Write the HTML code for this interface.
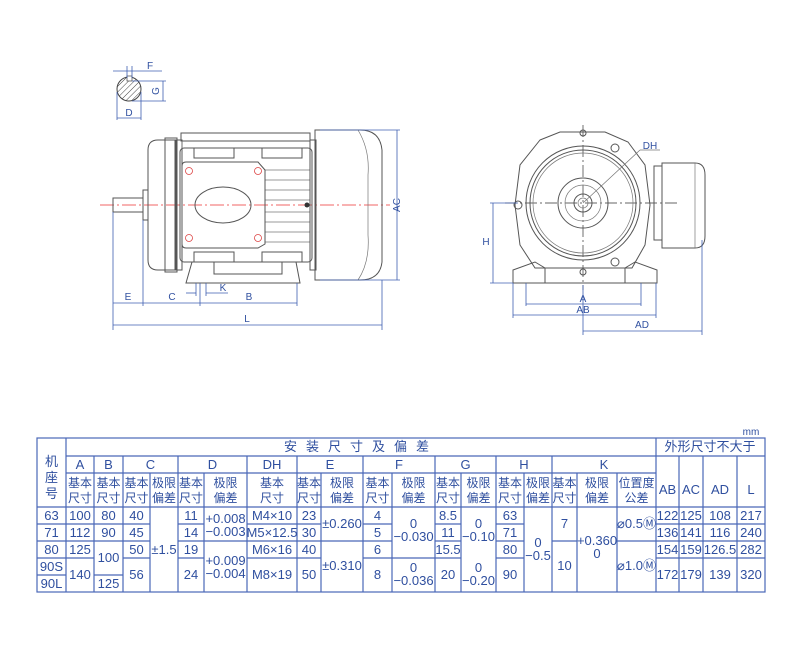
<!DOCTYPE html>
<html><head><meta charset="utf-8"><style>
html,body{margin:0;padding:0;background:#fff}
svg{display:block}
.t{font-family:"Liberation Sans","Noto Sans CJK SC",sans-serif;font-size:13px;fill:#2f4f9f;text-anchor:middle}
.d{font-family:"Liberation Sans",sans-serif;font-size:10px;fill:#3050a0;text-anchor:middle}
.g{stroke:#555;stroke-width:1;fill:none}
.g2{stroke:#777;stroke-width:0.7;fill:none}
.b{stroke:#3f5fb0;stroke-width:0.8;fill:none}
.r{stroke:#e33;stroke-width:0.8;stroke-dasharray:14 3 2 3;fill:none}
.k{stroke:#333;stroke-width:0.7;stroke-dasharray:12 3 2 3;fill:none}
.tl{stroke:#4a68b8;stroke-width:1.2;fill:none}
</style></head><body>
<svg width="806" height="656" viewBox="0 0 806 656" xmlns="http://www.w3.org/2000/svg">
<defs>
<pattern id="h" width="4" height="4" patternUnits="userSpaceOnUse" patternTransform="rotate(45)"><line x1="0" y1="0" x2="0" y2="4" stroke="#444" stroke-width="1"/></pattern>
</defs>
<circle cx="129" cy="89" r="12" fill="url(#h)" stroke="#444"/>
<rect x="127" y="76" width="5" height="5" fill="#fff" stroke="#444" stroke-width="0.7"/>
<line class="b" x1="113" y1="71" x2="162" y2="71"/><line class="b" x1="127" y1="66" x2="127" y2="78"/><line class="b" x1="132" y1="66" x2="132" y2="78"/>
<text class="d" x="150" y="69">F</text>
<line class="b" x1="132" y1="81" x2="166" y2="81"/><line class="b" x1="132" y1="101" x2="166" y2="101"/><line class="b" x1="163" y1="81" x2="163" y2="101"/>
<text class="d" x="156" y="94" transform="rotate(-90 156 91)">G</text>
<line class="b" x1="117" y1="92" x2="117" y2="120"/><line class="b" x1="141" y1="92" x2="141" y2="120"/><line class="b" x1="117" y1="118" x2="141" y2="118"/>
<text class="d" x="129" y="116">D</text>
<line class="r" x1="100" y1="205" x2="390" y2="205"/>
<rect class="g" x="113" y="198" width="30" height="14"/>
<rect class="g" x="143" y="190" width="5" height="30"/>
<path class="g" d="M148 150 Q148 140 158 140 L175 140 L175 270 L158 270 Q148 270 148 260 Z"/>
<rect class="g" x="165" y="138" width="12" height="134"/>
<rect class="g" x="176" y="140" width="6" height="130"/>
<rect class="g" x="181" y="133" width="129" height="8"/>
<rect class="g" x="180" y="148" width="132" height="114" rx="4"/>
<line class="g2" x1="182" y1="141" x2="182" y2="148"/><line class="g2" x1="310" y1="141" x2="310" y2="148"/>
<rect class="g" x="194" y="148" width="40" height="10"/><rect class="g" x="262" y="148" width="40" height="10"/>
<rect class="g" x="194" y="252" width="40" height="10"/><rect class="g" x="262" y="252" width="40" height="10"/>
<g class="g2"><line x1="265" y1="170" x2="310" y2="170"/><line x1="265" y1="180" x2="310" y2="180"/><line x1="265" y1="190" x2="310" y2="190"/><line x1="265" y1="200" x2="310" y2="200"/><line x1="265" y1="212" x2="310" y2="212"/><line x1="265" y1="222" x2="310" y2="222"/><line x1="265" y1="232" x2="310" y2="232"/><line x1="265" y1="242" x2="310" y2="242"/></g>
<path class="g" d="M182 166 Q182 162 186 162 L258 162 L265 170 L265 244 L258 248 L186 248 Q182 248 182 244 Z"/>
<ellipse class="g" cx="223" cy="205" rx="28" ry="18"/>
<g stroke="#d44" stroke-width="0.8" fill="none"><circle cx="189" cy="171" r="3.5"/><circle cx="258" cy="171" r="3.5"/><circle cx="189" cy="238" r="3.5"/><circle cx="258" cy="238" r="3.5"/></g>
<circle cx="307" cy="205" r="2.5" fill="#333"/>
<path class="g" d="M192 262 L186 283 L300 283 L296 262"/>
<rect class="g" x="214" y="262" width="68" height="12"/>
<path class="g" d="M315 130 L360 130 Q380 130 382 150 L382 262 Q380 280 360 280 L315 280 Z"/>
<path class="g2" d="M358 130 Q370 150 368 175 L368 235 Q370 262 358 280"/>
<rect class="g" x="310" y="140" width="6" height="130"/>
<line class="b" x1="320" y1="130" x2="400" y2="130"/><line class="b" x1="320" y1="280" x2="400" y2="280"/>
<line class="b" x1="397" y1="130" x2="397" y2="280"/>
<text class="d" x="397" y="208" transform="rotate(-90 397 205)">AC</text>
<line class="b" x1="113" y1="212" x2="113" y2="330"/><line class="b" x1="143" y1="220" x2="143" y2="306"/>
<line class="b" x1="200" y1="283" x2="200" y2="306"/><line class="b" x1="297" y1="283" x2="297" y2="306"/><line class="b" x1="382" y1="280" x2="382" y2="330"/>
<line class="b" x1="196" y1="283" x2="196" y2="296"/><line class="b" x1="206" y1="283" x2="206" y2="296"/>
<line class="b" x1="186" y1="293" x2="196" y2="293"/><line class="b" x1="206" y1="293" x2="228" y2="293"/>
<text class="d" x="223" y="291">K</text>
<line class="b" x1="113" y1="303" x2="297" y2="303"/>
<text class="d" x="128" y="300">E</text><text class="d" x="172" y="300">C</text><text class="d" x="249" y="300">B</text>
<line class="b" x1="113" y1="325" x2="382" y2="325"/><text class="d" x="247" y="322">L</text>
<line class="k" x1="505" y1="203" x2="680" y2="203"/><line class="k" x1="583" y1="125" x2="583" y2="290"/>
<path class="g" d="M540 140 L560 132 L605 132 L628 142 L645 165 L650 205 L645 245 L632 268 L535 268 L520 245 L515 205 L520 165 Z"/>
<circle class="g" cx="583" cy="203" r="57"/><circle class="g" cx="583" cy="203" r="53"/><circle class="g2" cx="583" cy="203" r="50"/>
<circle class="g" cx="583" cy="203" r="25"/><circle class="g2" cx="583" cy="203" r="18"/><circle class="g" cx="583" cy="203" r="9"/><circle class="g2" cx="583" cy="203" r="5"/>
<line class="g2" x1="583" y1="203" x2="640" y2="150"/><line class="g2" x1="640" y1="150" x2="660" y2="150"/>
<text class="d" x="650" y="149">DH</text>
<circle class="g" cx="518" cy="205" r="4"/><circle class="g" cx="615" cy="148" r="4"/><circle class="g" cx="615" cy="262" r="4"/><circle class="g" cx="583" cy="133" r="3"/><circle class="g" cx="583" cy="272" r="3"/>
<rect class="g" x="654" y="166" width="8" height="74"/>
<path class="g" d="M662 163 L695 163 Q705 163 705 175 L705 236 Q705 248 695 248 L662 248 Z"/>
<line class="g2" x1="695" y1="163" x2="695" y2="248"/>
<path class="g" d="M513 283 L513 270 L535 262 L545 268 L545 283 Z"/><path class="g" d="M657 283 L657 270 L635 262 L625 268 L625 283 Z"/>
<line class="g" x1="513" y1="283" x2="657" y2="283"/>
<line class="b" x1="493" y1="203" x2="493" y2="283"/><line class="b" x1="490" y1="203" x2="518" y2="203"/><line class="b" x1="490" y1="283" x2="513" y2="283"/>
<text class="d" x="486" y="245">H</text>
<line class="b" x1="526" y1="283" x2="526" y2="306"/><line class="b" x1="641" y1="283" x2="641" y2="306"/><line class="b" x1="526" y1="304" x2="641" y2="304"/>
<text class="d" x="583" y="302">A</text>
<line class="b" x1="513" y1="283" x2="513" y2="318"/><line class="b" x1="656" y1="283" x2="656" y2="318"/><line class="b" x1="513" y1="315" x2="656" y2="315"/>
<text class="d" x="583" y="313">AB</text>
<line class="b" x1="583" y1="285" x2="583" y2="335"/><line class="b" x1="702" y1="240" x2="702" y2="335"/><line class="b" x1="583" y1="331" x2="702" y2="331"/>
<text class="d" x="642" y="328">AD</text>
<text class="d" x="751" y="435" style="font-size:10px">mm</text>
<g class="tl">
<rect x="37" y="438" width="728" height="154"/>
<line x1="66" y1="438" x2="66" y2="592"/><line x1="656" y1="438" x2="656" y2="592"/>
<line x1="66" y1="456" x2="765" y2="456"/><line x1="66" y1="473" x2="656" y2="473"/><line x1="37" y1="507" x2="765" y2="507"/>
<line x1="94" y1="456" x2="94" y2="592"/><line x1="123" y1="456" x2="123" y2="592"/><line x1="150" y1="473" x2="150" y2="592"/><line x1="178" y1="456" x2="178" y2="592"/><line x1="204" y1="473" x2="204" y2="592"/><line x1="247" y1="456" x2="247" y2="592"/><line x1="297" y1="456" x2="297" y2="592"/><line x1="321" y1="473" x2="321" y2="592"/><line x1="363" y1="456" x2="363" y2="592"/><line x1="392" y1="473" x2="392" y2="592"/><line x1="435" y1="456" x2="435" y2="592"/><line x1="461" y1="473" x2="461" y2="592"/><line x1="496" y1="456" x2="496" y2="592"/><line x1="524" y1="473" x2="524" y2="592"/><line x1="552" y1="456" x2="552" y2="592"/><line x1="577" y1="473" x2="577" y2="592"/><line x1="617" y1="473" x2="617" y2="592"/><line x1="679" y1="456" x2="679" y2="592"/><line x1="703" y1="456" x2="703" y2="592"/><line x1="737" y1="456" x2="737" y2="592"/>
<path d="M37 524H150M178 524H204M247 524H321M363 524H392M435 524H461M496 524H524M656 524H765"/>
<path d="M37 541H150M178 541H392M435 541H461M496 541H524M552 541H577M617 541H765"/>
<path d="M37 558H94M123 558H150M178 558H204M247 558H321M363 558H461M496 558H524M656 558H765"/>
<path d="M37 575H66M94 575H123"/>
</g>
<g class="t">
<text x="51.5" y="466">机</text><text x="51.5" y="482">座</text><text x="51.5" y="498">号</text>
<text x="361" y="451" style="letter-spacing:9px">安装尺寸及偏差</text>
<text x="710" y="451">外形尺寸不大于</text>
<text x="80" y="469">A</text><text x="108.5" y="469">B</text><text x="150.5" y="469">C</text><text x="212.5" y="469">D</text><text x="272" y="469">DH</text><text x="330" y="469">E</text><text x="399" y="469">F</text><text x="465.5" y="469">G</text><text x="524" y="469">H</text><text x="604" y="469">K</text>
<text x="667.5" y="494">AB</text><text x="691" y="494">AC</text><text x="720" y="494">AD</text><text x="751" y="494">L</text>
<g style="font-size:12px">
<text x="80" y="487">基本</text><text x="80" y="502">尺寸</text>
<text x="108.5" y="487">基本</text><text x="108.5" y="502">尺寸</text>
<text x="136.5" y="487">基本</text><text x="136.5" y="502">尺寸</text>
<text x="164" y="487">极限</text><text x="164" y="502">偏差</text>
<text x="191" y="487">基本</text><text x="191" y="502">尺寸</text>
<text x="225.5" y="487">极限</text><text x="225.5" y="502">偏差</text>
<text x="272" y="487">基本</text><text x="272" y="502">尺寸</text>
<text x="309" y="487">基本</text><text x="309" y="502">尺寸</text>
<text x="342" y="487">极限</text><text x="342" y="502">偏差</text>
<text x="377.5" y="487">基本</text><text x="377.5" y="502">尺寸</text>
<text x="413.5" y="487">极限</text><text x="413.5" y="502">偏差</text>
<text x="448" y="487">基本</text><text x="448" y="502">尺寸</text>
<text x="478.5" y="487">极限</text><text x="478.5" y="502">偏差</text>
<text x="510" y="487">基本</text><text x="510" y="502">尺寸</text>
<text x="538" y="487">极限</text><text x="538" y="502">偏差</text>
<text x="564.5" y="487">基本</text><text x="564.5" y="502">尺寸</text>
<text x="597" y="487">极限</text><text x="597" y="502">偏差</text>
<text x="636.5" y="487">位置度</text><text x="636.5" y="502">公差</text>
</g>
<text x="51.5" y="520">63</text><text x="51.5" y="537">71</text><text x="51.5" y="554">80</text><text x="51.5" y="571">90S</text><text x="51.5" y="588">90L</text>
<text x="80" y="520">100</text><text x="80" y="537">112</text><text x="80" y="554">125</text><text x="80" y="579">140</text>
<text x="108.5" y="520">80</text><text x="108.5" y="537">90</text><text x="108.5" y="562">100</text><text x="108.5" y="588">125</text>
<text x="136.5" y="520">40</text><text x="136.5" y="537">45</text><text x="136.5" y="554">50</text><text x="136.5" y="579">56</text>
<text x="164" y="554">±1.5</text>
<text x="191" y="520">11</text><text x="191" y="537">14</text><text x="191" y="554">19</text><text x="191" y="579">24</text>
<text x="225.5" y="523">+0.008</text><text x="225.5" y="536">−0.003</text>
<text x="225.5" y="565">+0.009</text><text x="225.5" y="578">−0.004</text>
<text x="272" y="520">M4×10</text><text x="272" y="537">M5×12.5</text><text x="272" y="554">M6×16</text><text x="272" y="579">M8×19</text>
<text x="309" y="520">23</text><text x="309" y="537">30</text><text x="309" y="554">40</text><text x="309" y="579">50</text>
<text x="342" y="528">±0.260</text><text x="342" y="570">±0.310</text>
<text x="377.5" y="520">4</text><text x="377.5" y="537">5</text><text x="377.5" y="554">6</text><text x="377.5" y="579">8</text>
<text x="413.5" y="528">0</text><text x="413.5" y="541">−0.030</text>
<text x="413.5" y="572">0</text><text x="413.5" y="585">−0.036</text>
<text x="448" y="520">8.5</text><text x="448" y="537">11</text><text x="448" y="554">15.5</text><text x="448" y="579">20</text>
<text x="478.5" y="528">0</text><text x="478.5" y="541">−0.10</text>
<text x="478.5" y="572">0</text><text x="478.5" y="585">−0.20</text>
<text x="510" y="520">63</text><text x="510" y="537">71</text><text x="510" y="554">80</text><text x="510" y="579">90</text>
<text x="538" y="547">0</text><text x="538" y="560">−0.5</text>
<text x="564.5" y="528">7</text><text x="564.5" y="570">10</text>
<text x="597" y="545">+0.360</text><text x="597" y="558">0</text>
<text x="636.5" y="528">⌀0.5Ⓜ</text><text x="636.5" y="570">⌀1.0Ⓜ</text>
<text x="667.5" y="520">122</text><text x="667.5" y="537">136</text><text x="667.5" y="554">154</text><text x="667.5" y="579">172</text>
<text x="691" y="520">125</text><text x="691" y="537">141</text><text x="691" y="554">159</text><text x="691" y="579">179</text>
<text x="720" y="520">108</text><text x="720" y="537">116</text><text x="720" y="554">126.5</text><text x="720" y="579">139</text>
<text x="751" y="520">217</text><text x="751" y="537">240</text><text x="751" y="554">282</text><text x="751" y="579">320</text>
</g>
</svg>
</body></html>
